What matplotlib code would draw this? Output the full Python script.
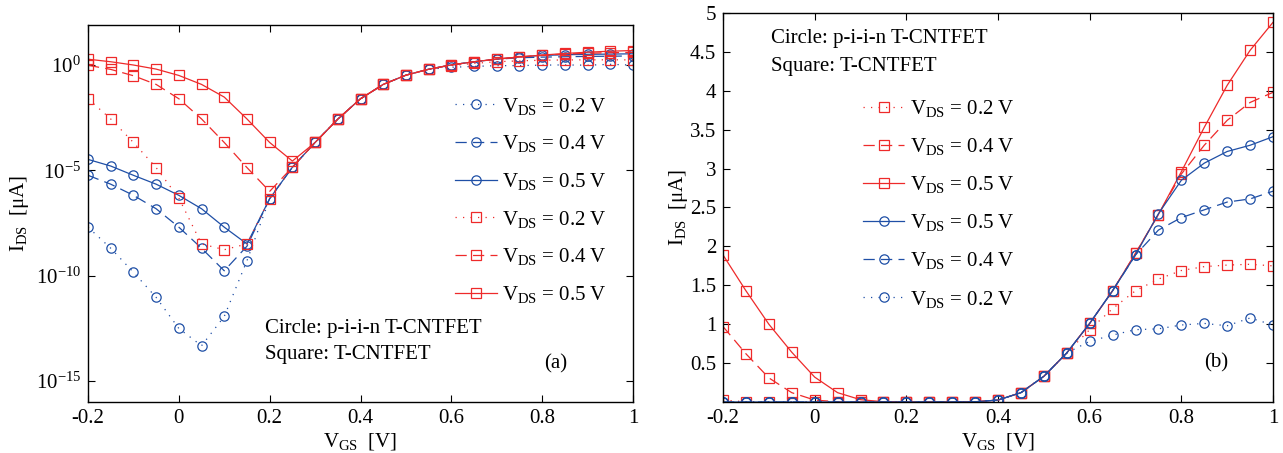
import numpy as np
import matplotlib
matplotlib.use('Agg')
import matplotlib.pyplot as plt
from matplotlib.ticker import FixedLocator, NullLocator

plt.rcParams['font.family'] = 'Liberation Serif'
plt.rcParams['mathtext.fontset'] = 'custom'
plt.rcParams['mathtext.rm'] = 'Liberation Serif'
plt.rcParams['mathtext.it'] = 'Liberation Serif:italic'
plt.rcParams['axes.unicode_minus'] = False

# gate voltage sweep [V]
vgs = [-0.2, -0.15, -0.1, -0.05, 0.0, 0.05, 0.1, 0.15, 0.2, 0.25, 0.3, 0.35, 0.4,
       0.45, 0.5, 0.55, 0.6, 0.65, 0.7, 0.75, 0.8, 0.85, 0.9, 0.95, 1.0]

# T-CNTFET (squares), I_DS in uA
sq_02 = [0.025, 2.75e-3, 2.1e-4, 1.35e-5, 4.8e-7, 3.2e-9, 1.7e-9, 3.2e-9, 4.5e-7, 1.4e-5,
         2.1e-4, 2.7e-3, 0.025, 0.12, 0.33, 0.63, 0.93, 1.20, 1.43, 1.58, 1.69, 1.74, 1.76, 1.77, 1.75]
sq_04 = [0.97, 0.62, 0.31, 0.12, 0.025, 2.75e-3, 2.1e-4, 1.35e-5, 1.0e-6, 1.4e-5,
         2.1e-4, 2.7e-3, 0.025, 0.12, 0.33, 0.63, 1.01, 1.43, 1.91, 2.41, 2.93, 3.30, 3.62, 3.85, 3.98]
sq_05 = [1.89, 1.43, 1.00, 0.64, 0.32, 0.12, 0.03, 2.75e-3, 2.1e-4, 2.75e-5,
         2.1e-4, 2.7e-3, 0.025, 0.12, 0.33, 0.63, 1.01, 1.43, 1.91, 2.41, 2.96, 3.53, 4.07, 4.52, 4.88]

# p-i-i-n T-CNTFET (circles), I_DS in uA
ci_02 = [2.0e-8, 2.0e-9, 1.45e-10, 9.3e-12, 3.1e-13, 4.7e-14, 1.15e-12, 5.1e-10, 4.5e-7, 1.4e-5,
         2.1e-4, 2.7e-3, 0.025, 0.12, 0.33, 0.63, 0.78, 0.86, 0.93, 0.94, 0.99, 1.01, 0.98, 1.08, 0.99]
ci_04 = [5.8e-6, 2.2e-6, 6.5e-7, 1.5e-7, 2.0e-8, 2.0e-9, 1.7e-10, 2.5e-9, 4.5e-7, 1.4e-5,
         2.1e-4, 2.7e-3, 0.025, 0.12, 0.33, 0.63, 1.01, 1.43, 1.89, 2.21, 2.37, 2.47, 2.57, 2.61, 2.71]
ci_05 = [3.3e-5, 1.6e-5, 5.8e-6, 2.2e-6, 6.5e-7, 1.5e-7, 2.0e-8, 3.2e-9, 4.5e-7, 1.4e-5,
         2.1e-4, 2.7e-3, 0.025, 0.12, 0.33, 0.63, 1.01, 1.43, 1.89, 2.42, 2.85, 3.07, 3.22, 3.30, 3.41]

RED = '#ee2a2a'
BLUE = '#1f4fa6'
DOT = (0, (1, 5))
DASH = (0, (9, 5))
FS = 15


def vds_label(v):
    return r'V$_{\rm DS}$ = %.1f V' % v


def draw(ax, y, color, ls, marker, v):
    ax.plot(vgs, y, color=color, linestyle=ls, linewidth=0.9, marker=marker,
            markersize=7.0 if marker == 's' else 6.7, markerfacecolor='none',
            markeredgecolor=color, markeredgewidth=0.9, label=vds_label(v))


def style(ax):
    ax.tick_params(direction='in', top=True, right=True, length=5, width=0.8,
                   labelsize=FS, pad=5)
    for s in ax.spines.values():
        s.set_linewidth(1.0)
    ax.set_xlim(-0.2, 1.0)
    ax.set_xticks([-0.2, 0, 0.2, 0.4, 0.6, 0.8, 1.0])
    ax.set_xticklabels(['-0.2', '0', '0.2', '0.4', '0.6', '0.8', '1'])
    ax.set_xlabel(r'V$_{\rm GS}$  [V]', fontsize=FS, labelpad=2)
    ax.set_ylabel(r'I$_{\rm DS}$  [μA]', fontsize=FS)


fig = plt.figure(figsize=(12.83, 4.53), dpi=100)
ax1 = fig.add_axes([88 / 1283, 51 / 453, 545 / 1283, 377 / 453])
ax2 = fig.add_axes([723 / 1283, 51 / 453, 550 / 1283, 389 / 453])

# (a) log scale
draw(ax1, ci_02, BLUE, DOT, 'o', 0.2)
draw(ax1, ci_04, BLUE, DASH, 'o', 0.4)
draw(ax1, ci_05, BLUE, '-', 'o', 0.5)
draw(ax1, sq_02, RED, DOT, 's', 0.2)
draw(ax1, sq_04, RED, DASH, 's', 0.4)
draw(ax1, sq_05, RED, '-', 's', 0.5)
ax1.set_yscale('log')
ax1.set_ylim(1e-16, 10 ** 1.9)
ax1.yaxis.set_major_locator(FixedLocator([1e-15, 1e-10, 1e-5, 1e0]))
ax1.yaxis.set_minor_locator(NullLocator())
style(ax1)
ax1.yaxis.set_label_coords(-0.105, 0.5)
ax1.legend(loc='upper left', bbox_to_anchor=(0.655, 0.84), frameon=False, fontsize=FS,
           handlelength=2.0, handletextpad=0.25, labelspacing=0.8, borderpad=0)
ax1.text(0.19, 3e-13, 'Circle: p-i-i-n T-CNTFET', fontsize=FS, va='center')
ax1.text(0.19, 10 ** -13.76, 'Square: T-CNTFET', fontsize=FS, va='center')
ax1.text(0.83, 10 ** -14.2, '(a)', fontsize=FS, va='center', ha='center')

# (b) linear scale
draw(ax2, sq_02, RED, DOT, 's', 0.2)
draw(ax2, sq_04, RED, DASH, 's', 0.4)
draw(ax2, sq_05, RED, '-', 's', 0.5)
draw(ax2, ci_05, BLUE, '-', 'o', 0.5)
draw(ax2, ci_04, BLUE, DASH, 'o', 0.4)
draw(ax2, ci_02, BLUE, DOT, 'o', 0.2)
ax2.set_ylim(0, 5)
ax2.set_yticks([0.5, 1, 1.5, 2, 2.5, 3, 3.5, 4, 4.5, 5])
ax2.set_yticklabels(['0.5', '1', '1.5', '2', '2.5', '3', '3.5', '4', '4.5', '5'])
style(ax2)
ax2.yaxis.set_label_coords(-0.06, 0.5)
ax2.legend(loc='upper left', bbox_to_anchor=(0.235, 0.808), frameon=False, fontsize=FS,
           handlelength=2.0, handletextpad=0.25, labelspacing=0.82, borderpad=0)
ax2.text(0.087, 0.935, 'Circle: p-i-i-n T-CNTFET', fontsize=FS, va='center',
         transform=ax2.transAxes)
ax2.text(0.087, 0.862, 'Square: T-CNTFET', fontsize=FS, va='center',
         transform=ax2.transAxes)
ax2.text(0.896, 0.10, '(b)', fontsize=FS, va='center', ha='center',
         transform=ax2.transAxes)

fig.savefig('out.png', dpi=100)
